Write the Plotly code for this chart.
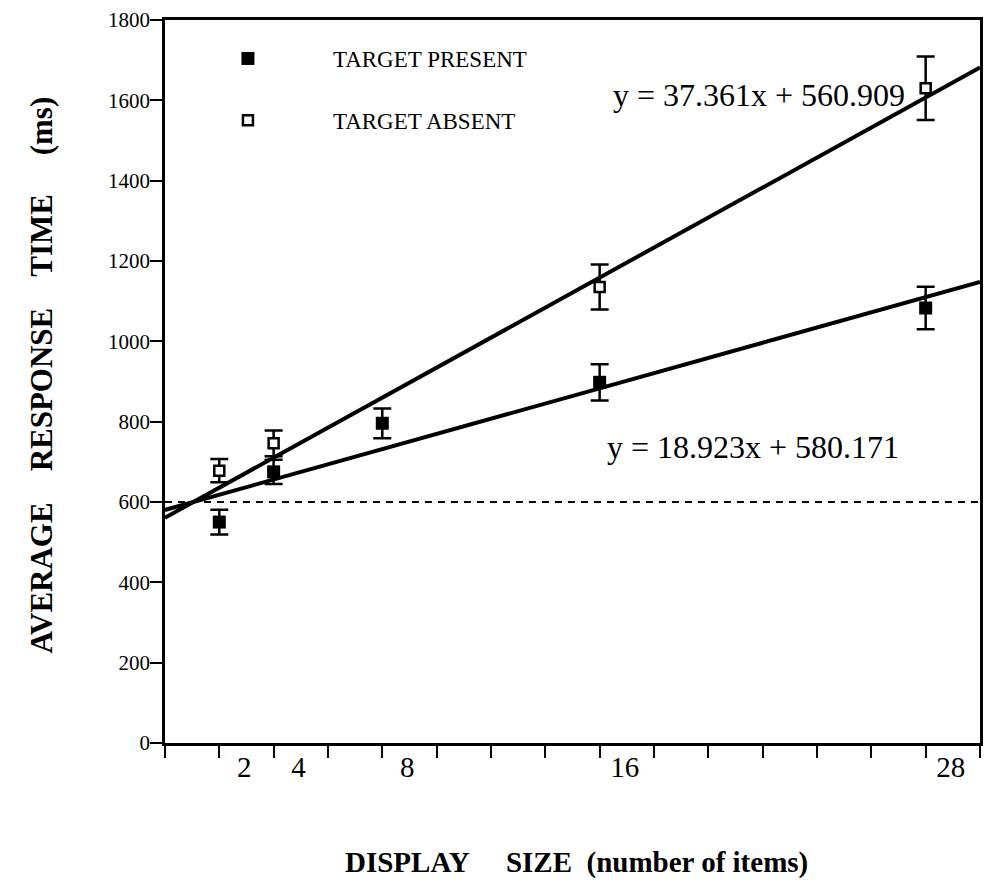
import plotly.graph_objects as go

# ---- data ----
display_size_present = [2, 4, 8, 16, 28]
rt_present = [550, 675, 796, 898, 1083]
err_present = [31, 30, 37, 45, 53]

display_size_absent = [2, 4, 16, 28]
rt_absent = [678, 746, 1135, 1630]
err_absent = [29, 32, 56, 79]

fit_absent = {"slope": 37.361, "intercept": 560.909}
fit_present = {"slope": 18.923, "intercept": 580.171}
fit_x = [0, 30]
baseline_value = [600, 600]

x_tick_vals = [0, 2, 4, 6, 8, 10, 12, 14, 16, 18, 20, 22, 24, 26, 28, 30]
x_label_vals = [2, 4, 8, 16, 28]
x_label_text = ["2", "4", "8", "16", "28"]
y_tick_vals = [0, 200, 400, 600, 800, 1000, 1200, 1400, 1600, 1800]

FONT = "Liberation Serif"
W, H = 985, 886
L, R, T, B = 150, 2, 20, 139
PW, PH = W - L - R, H - T - B
AX_LEFT_PX, AX_BOTTOM_PX = 165, 743   # where the drawn axes sit


def px(xp):
    return (xp - L) / PW


def py(yp):
    return (H - B - yp) / PH


x_domain = [px(AX_LEFT_PX), 1]
y_domain = [py(AX_BOTTOM_PX), 1]

fig = go.Figure()

# baseline dashed line
fig.add_trace(go.Scatter(x=fit_x, y=baseline_value, mode="lines",
                         line=dict(color="black", width=2.2, dash="7px,6px"),
                         showlegend=False, hoverinfo="skip"))

# fit lines
for fit in (fit_absent, fit_present):
    fig.add_trace(go.Scatter(
        x=fit_x, y=[fit["slope"] * v + fit["intercept"] for v in fit_x],
        mode="lines", line=dict(color="black", width=4),
        showlegend=False, hoverinfo="skip"))

fig.add_trace(go.Scatter(
    x=display_size_present, y=rt_present, mode="markers",
    name="TARGET PRESENT", legendgroup="p",
    marker=dict(symbol="square", size=13, color="black", line=dict(color="black", width=0)),
    error_y=dict(type="data", array=err_present, color="black", thickness=2.5, width=9)))

fig.add_trace(go.Scatter(
    x=display_size_absent, y=rt_absent, mode="markers",
    name="TARGET ABSENT", legendgroup="a",
    marker=dict(symbol="square", size=10, color="white", line=dict(color="black", width=2.5)),
    error_y=dict(type="data", array=err_absent, color="black", thickness=2.5, width=9)))

# invisible trace carrying the label-only axes
fig.add_trace(go.Scatter(x=fit_x, y=baseline_value, xaxis="x2", yaxis="y2", mode="lines",
                         line=dict(width=0, color="rgba(0,0,0,0)"),
                         showlegend=False, hoverinfo="skip"))

annotations = [
    dict(text="y = %.3fx + %.3f" % (fit_absent["slope"], fit_absent["intercept"]),
         x=px(613), y=py(95), xanchor="left", yanchor="middle"),
    dict(text="y = %.3fx + %.3f" % (fit_present["slope"], fit_present["intercept"]),
         x=px(607), y=py(447), xanchor="left", yanchor="middle"),
]
for a in annotations:
    a.update(xref="paper", yref="paper", showarrow=False,
             font=dict(family=FONT, size=32, color="black"))

NB = "&nbsp;"
annotations.append(dict(
    text="<b>DISPLAY" + NB * 5 + "SIZE" + NB * 2 + "(number of items)</b>",
    x=px(578), y=py(862), xref="paper", yref="paper", showarrow=False,
    xanchor="center", yanchor="middle", font=dict(family=FONT, size=29, color="black")))
annotations.append(dict(
    text="<b>AVERAGE" + NB * 4 + "RESPONSE" + NB * 4 + "TIME" + NB * 5 + "(ms)</b>",
    x=px(41), y=py(375), xref="paper", yref="paper", showarrow=False, textangle=-90,
    xanchor="center", yanchor="middle", font=dict(family=FONT, size=31, color="black")))

fig.update_layout(
    width=W, height=H,
    margin=dict(l=L, r=R, t=T, b=B),
    paper_bgcolor="white", plot_bgcolor="white",
    font=dict(family=FONT, color="black"),
    annotations=annotations,
    legend=dict(x=px(163), y=py(37), xanchor="left", yanchor="top",
                font=dict(family=FONT, size=23, color="black"),
                itemwidth=160, tracegroupgap=29, bgcolor="rgba(0,0,0,0)",
                traceorder="grouped"),
    xaxis=dict(domain=x_domain, range=[0, 30], tickmode="array", tickvals=x_tick_vals,
               showticklabels=False, ticks="outside", ticklen=12, tickwidth=2,
               tickcolor="black", showline=True, linecolor="black", linewidth=2.5,
               mirror=True, showgrid=False, zeroline=False),
    yaxis=dict(domain=y_domain, range=[0, 1800], tickmode="array", tickvals=y_tick_vals,
               showticklabels=False, ticks="outside", ticklen=12, tickwidth=2,
               tickcolor="black", showline=True, linecolor="black", linewidth=2.5,
               mirror=True, showgrid=False, zeroline=False),
    xaxis2=dict(overlaying="x", anchor="free", position=0, side="bottom",
                range=[0, 30], tickmode="array", tickvals=x_label_vals, ticktext=x_label_text,
                ticks="", showline=False, showgrid=False, zeroline=False,
                ticklabelshift=25, tickfont=dict(family=FONT, size=29, color="black")),
    yaxis2=dict(overlaying="y", anchor="free", position=0, side="left",
                range=[0, 1800], tickmode="array", tickvals=y_tick_vals,
                ticks="", showline=False, showgrid=False, zeroline=False,
                tickfont=dict(family=FONT, size=21, color="black")),
)

fig.write_html("out.html")
